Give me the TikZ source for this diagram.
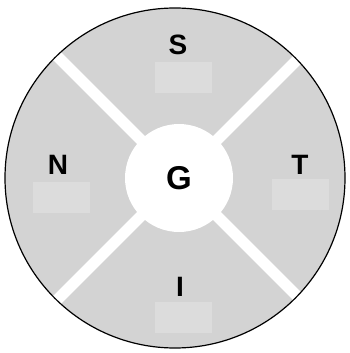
\documentclass[tikz,border=0pt]{standalone}
\usepackage{fontspec}
\setmainfont{Liberation Sans}
\usepackage{tikz}
\usetikzlibrary{positioning}
\definecolor{ringc}{HTML}{D3D3D3}
\definecolor{boxc}{HTML}{DCDCDC}
\newcommand{\zone}[4]{%
  \node[valbox] (#1box) at #3 {};
  \node[lbl] (#1) at #2 {#4};
}

\begin{document}
\begin{tikzpicture}[x=1pt, y=-1pt, line width=0.6pt,
          lbl/.style={font=\bfseries\fontsize{28}{28}\selectfont, inner sep=0pt},
          valbox/.style={fill=boxc, minimum width=57pt, minimum height=31pt,
                         inner sep=0pt}]
        \useasboundingbox (0,0) rectangle (349,353);
        \coordinate (c) at (175,178);
        \fill[ringc] (c) circle (170pt);
        \coordinate (mid) at (179,178);
        \begin{scope}
          \clip (c) circle (170pt);
          \foreach \a in {45,135,225,315}
            \draw[white, line width=11pt] (mid) -- ++(\a:200pt);
        \end{scope}
        \node[circle, fill=white, minimum size=108pt, inner sep=0pt,
              font=\bfseries\fontsize{33}{33}\selectfont] (g) at (179,178) {G};
        \zone{s}{(178,45)}{(183.5,77)}{S}
        \zone{n}{(58,165)}{(61.5,197.5)}{N}
        \zone{t}{(300,165)}{(300,194)}{T}
        \zone{i}{(180,287)}{(183.5,317.5)}{I}
        \draw[black, line width=1.2pt] (c) circle (170pt);
      \end{tikzpicture}
\end{document}
